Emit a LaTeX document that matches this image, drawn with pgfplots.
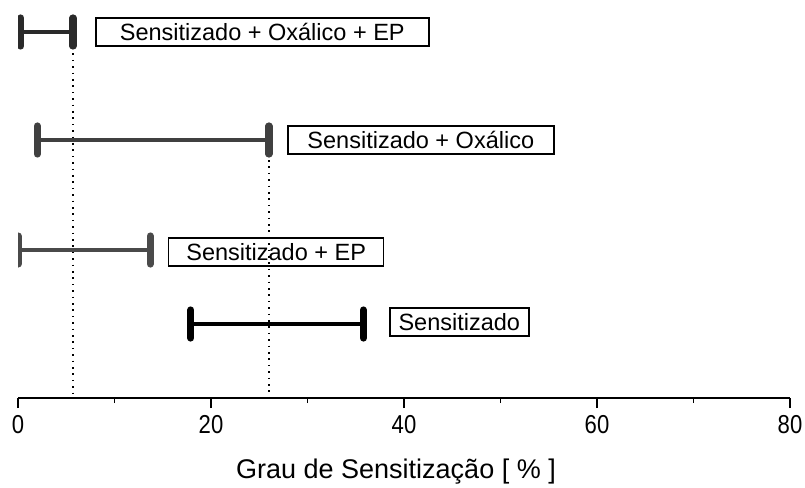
\documentclass[border=0pt]{standalone}
\usepackage{pgfplots}
\pgfplotsset{compat=1.18}
\usepackage{fontspec}
\setmainfont{Liberation Sans}

\definecolor{barA}{HTML}{2A2A2A}
\definecolor{barB}{HTML}{404040}
\definecolor{barC}{HTML}{4A4A4A}

% range bar with rounded caps
\pgfplotsset{
  rangebar/.style={line width=2pt, mark=|, mark size=7pt,
    mark options={line width=3.6pt, line cap=round, solid}},
}

\begin{document}
\begin{tikzpicture}
\begin{axis}[
    scale only axis,
    width=386pt,
    height=199pt,
    xmin=0, xmax=80,
    ymin=0, ymax=398,
    clip marker paths=true,
    axis x line*=bottom,
    axis y line=none,
    xtick={0,20,...,80},
    minor xtick={10,30,50,70},
    tick align=outside,
    major tick length=5pt,
    minor tick length=2.5pt,
    every tick/.style={black, line width=0.75pt},
    x axis line style={line width=0.75pt},
    /pgf/number format/assume math mode=true,
    tick label style={font=\fontsize{12}{14}\selectfont, yscale=1.08, xscale=0.92},
    xlabel={Grau de Sensitização [ \% ]},
    xlabel style={font=\fontsize{13.5}{15}\selectfont, at={(axis description cs:0.5,0)}, anchor=base, yshift=-40pt, xshift=-4pt},
]
% dotted guides
\addplot[black, line width=0.7pt, dash pattern=on 0.8pt off 2.4pt] coordinates {(5.7,351) (5.7,0)};
\addplot[black, line width=0.7pt, dash pattern=on 0.8pt off 2.4pt] coordinates {(26.0,270) (26.0,0)};

% Sensitizado + Oxalico + EP
\addplot[barA, rangebar] coordinates {(0.3,366) (5.7,366)};
% Sensitizado + Oxalico
\addplot[barB, rangebar] coordinates {(2.0,258) (26.0,258)};
% Sensitizado + EP
\addplot[barC, rangebar] coordinates {(0,148) (13.7,148)};
% Sensitizado
\addplot[black, rangebar] coordinates {(17.9,74) (35.8,74)};

\tikzset{lbl/.style={draw, line width=0.75pt, anchor=west, inner sep=0pt,
  minimum height=14pt, font=\fontsize{11.75}{13}\selectfont}}
\node[lbl, minimum width=166.5pt] at (axis cs:7.98,366) {Sensitizado + Oxálico + EP};
\node[lbl, minimum width=133pt] at (axis cs:27.88,258) {Sensitizado + Oxálico};
\node[lbl, minimum width=107.5pt] at (axis cs:15.54,146) {Sensitizado + EP};
\node[lbl, minimum width=69.5pt] at (axis cs:38.45,76) {Sensitizado};
\end{axis}
\pgfresetboundingbox
\path[use as bounding box] ([shift={(-9pt,-44.5pt)}]current axis.south west) rectangle ([shift={(7.5pt,0pt)}]current axis.north east);
\end{tikzpicture}
\end{document}
